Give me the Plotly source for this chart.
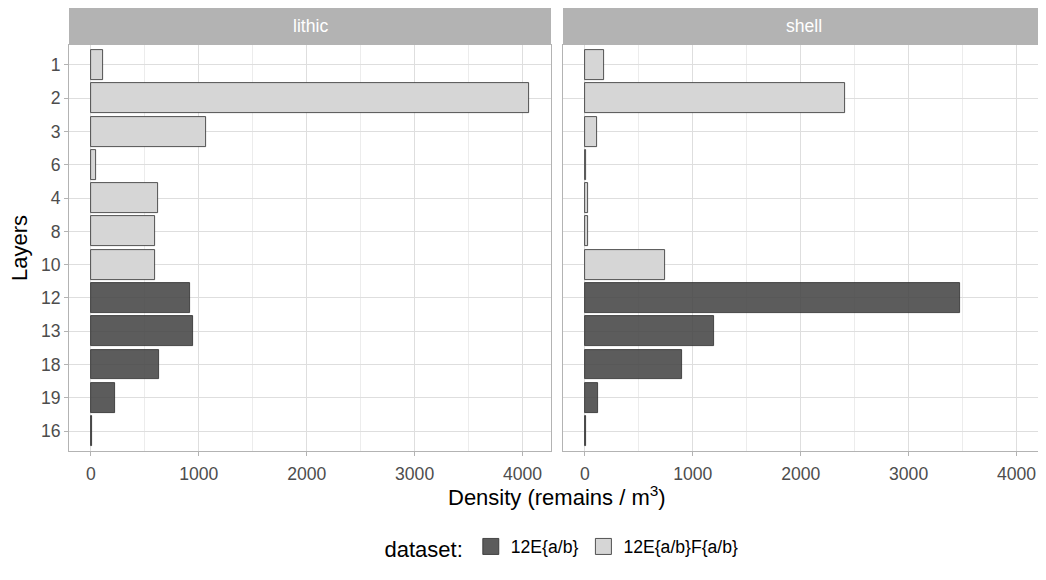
import plotly.graph_objects as go

# ---- data ----
layers = ["1", "2", "3", "6", "4", "8", "10", "12", "13", "18", "19", "16"]
dataset = ["12E{a/b}F{a/b}"] * 7 + ["12E{a/b}"] * 5
lithic = [115, 4061, 1071, 49, 623, 593, 595, 920, 947, 632, 219, 10]
shell = [176, 2407, 111, 10, 28, 28, 744, 3472, 1200, 901, 120, 8]
facets = ["lithic", "shell"]
x_ticks = [0, 1000, 2000, 3000, 4000]
dataset_order = ["12E{a/b}", "12E{a/b}F{a/b}"]
fills = {"12E{a/b}": "rgba(70,70,70,0.88)", "12E{a/b}F{a/b}": "rgba(214,214,214,1)"}

# page body has an 8px margin: draw the figure 8px smaller and shift coords
OFF = 8
W, H = 1046 - OFF, 580 - OFF
FONT = "Liberation Sans, Arial, sans-serif"
TICK = 17.6
TITLE = 22


def px_x(p):
    return (p - OFF) / W


def px_y(p):
    return 1 - (p - OFF) / H


fig = go.Figure()

panels = [("x", "y", lithic), ("x2", "y2", shell)]
for pi, (xa, ya, vals) in enumerate(panels):
    for ds in dataset_order:
        ys = [l for l, d in zip(layers, dataset) if d == ds]
        xs = [v for v, d in zip(vals, dataset) if d == ds]
        fig.add_trace(go.Bar(
            x=xs, y=ys, orientation="h", width=0.9,
            marker=dict(color=fills[ds], line=dict(color="#2b2b2b", width=0.8)),
            name=ds, legendgroup=ds, showlegend=False,
            xaxis=xa, yaxis=ya,
        ))

# legend keys (larger square keys like ggplot)
for ds in dataset_order:
    fig.add_trace(go.Scatter(
        x=[None], y=[None], mode="markers", name=ds, legendgroup=ds,
        marker=dict(symbol="square", size=22, color=fills[ds],
                    line=dict(color="#2b2b2b", width=0.8)),
        xaxis="x", yaxis="y", showlegend=True,
    ))

xr = [-203, 4264]
ydom = [px_y(451), px_y(45)]
xdom1 = [px_x(69), px_x(551)]
xdom2 = [px_x(563), px_x(1045)]

common_x = dict(
    range=xr, tickvals=x_ticks, ticktext=[str(t) for t in x_ticks],
    showgrid=True, gridcolor="#dedede", gridwidth=1,
    minor=dict(dtick=500, tick0=0, showgrid=True, gridcolor="#ececec", gridwidth=0.6, ticks=""),
    ticks="outside", ticklen=4, tickcolor="#b3b3b3", tickwidth=1,
    ticklabelstandoff=3,
    tickfont=dict(family=FONT, size=TICK, color="#4d4d4d"),
    showline=True, linecolor="#b3b3b3", linewidth=1, mirror=True,
    zeroline=False, fixedrange=True, automargin=False,
)
common_y = dict(
    type="category", categoryorder="array", categoryarray=layers,
    range=[len(layers) - 0.4, -0.6],
    showgrid=True, gridcolor="#dedede", gridwidth=1,
    showline=True, linecolor="#b3b3b3", linewidth=1, mirror=True,
    zeroline=False, domain=ydom, fixedrange=True, automargin=False,
    tickfont=dict(family=FONT, size=TICK, color="#4d4d4d"),
)

fig.update_layout(
    width=W, height=H,
    margin=dict(l=0, r=0, t=0, b=0),
    paper_bgcolor="white", plot_bgcolor="white",
    barmode="overlay",
    font=dict(family=FONT, color="black"),
    xaxis=dict(domain=xdom1, anchor="y", **common_x),
    xaxis2=dict(domain=xdom2, anchor="y2", **common_x),
    yaxis=dict(anchor="x", ticks="outside", ticklen=4, tickcolor="#b3b3b3", **common_y),
    yaxis2=dict(anchor="x2", showticklabels=False, ticks="", **common_y),
    legend=dict(
        orientation="h", x=px_x(563), xanchor="center", y=px_y(548), yanchor="middle",
        title=dict(text="dataset:", side="left", font=dict(family=FONT, size=TITLE)),
        font=dict(family=FONT, size=TICK, color="black"), traceorder="normal",
        itemsizing="trace", itemwidth=30,
    ),
    bargap=0,
)

# strips
strip_top, strip_bot = 8, 45
for dom, label in zip([xdom1, xdom2], facets):
    fig.add_shape(type="rect", xref="paper", yref="paper",
                  x0=dom[0], x1=dom[1], y0=px_y(strip_bot), y1=px_y(strip_top),
                  fillcolor="#b3b3b3", line=dict(width=0), layer="below")
    fig.add_annotation(text=label, xref="paper", yref="paper",
                       x=(dom[0] + dom[1]) / 2, y=px_y((strip_top + strip_bot) / 2),
                       showarrow=False, xanchor="center", yanchor="middle",
                       font=dict(family=FONT, size=TICK, color="white"))

# axis titles
fig.add_annotation(text="Layers", xref="paper", yref="paper",
                   x=px_x(19), y=(ydom[0] + ydom[1]) / 2, textangle=-90,
                   showarrow=False, xanchor="center", yanchor="middle",
                   font=dict(family=FONT, size=TITLE, color="black"))
fig.add_annotation(text="Density (remains / m<sup>3</sup>)", xref="paper", yref="paper",
                   x=px_x((69 + 1045) / 2), y=px_y(496),
                   showarrow=False, xanchor="center", yanchor="middle",
                   font=dict(family=FONT, size=TITLE, color="black"))

fig.write_html("out.html")
